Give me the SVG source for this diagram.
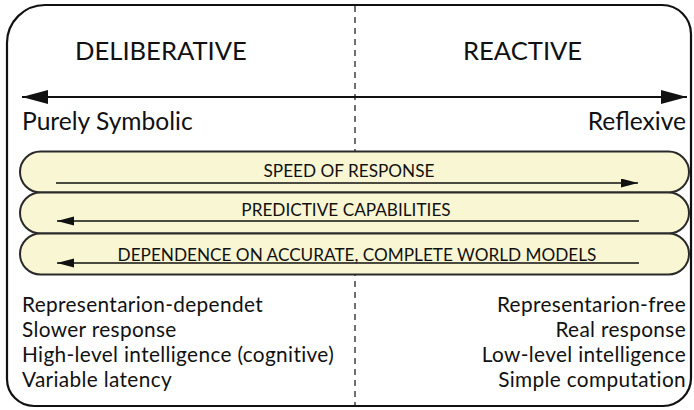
<svg xmlns="http://www.w3.org/2000/svg" width="694" height="410" viewBox="0 0 694 410">
<style>
text{font-family:Lato,"Open Sans","DejaVu Sans",sans-serif;fill:#111}
.title{font-size:25.6px}
.end{font-size:24.6px}
.pilltxt{font-size:17.2px;text-anchor:middle}
.item{font-size:20.8px;letter-spacing:0.35px}
.r{text-anchor:end}
.pill{fill:#F9F6D3;stroke:#2a2a2a;stroke-width:2}
.conn{stroke:#111;fill:none}
</style>
<defs>
<marker id="bigHead" markerUnits="userSpaceOnUse" markerWidth="28" markerHeight="16" refX="26" refY="7" orient="auto-start-reverse" viewBox="0 0 28 16"><path d="M0,0 L26,7 L0,14 Z" fill="#111"/></marker>
<marker id="smallHead" markerUnits="userSpaceOnUse" markerWidth="18" markerHeight="10" refX="17" refY="4.5" orient="auto-start-reverse" viewBox="0 0 18 10"><path d="M0,0 L17,4.5 L0,9 Z" fill="#111"/></marker>
</defs>
<rect width="694" height="410" fill="#fff"/>
<g id="frame">
<path d="M45,5 H662 A29,29 0 0 1 691,34 V378 A28,28 0 0 1 663,406 H34 A27,27 0 0 1 7,379 V43 A38,38 0 0 1 45,5 Z" fill="none" stroke="#111" stroke-width="2.2"/>
<line x1="355" y1="6" x2="355" y2="405" stroke="#111" stroke-width="1.2" stroke-dasharray="6,5"/>
</g>
<g id="deliberative"><text class="title" x="75" y="60">DELIBERATIVE</text></g>
<g id="reactive"><text class="title" x="463" y="60">REACTIVE</text></g>
<g id="purely-symbolic"><text class="end" x="22" y="130">Purely Symbolic</text></g>
<g id="reflexive"><text class="end r" x="686" y="130">Reflexive</text></g>
<g id="speed"><rect class="pill" x="20" y="151.5" width="669" height="41" rx="20.5"/><text class="pilltxt" x="349" y="177">SPEED OF RESPONSE</text></g>
<g id="predictive"><rect class="pill" x="20" y="192.5" width="669" height="41" rx="20.5"/><text class="pilltxt" x="346" y="216">PREDICTIVE CAPABILITIES</text></g>
<g id="dependence"><rect class="pill" x="20" y="233.5" width="669" height="41" rx="20.5"/><text class="pilltxt" x="357" y="261">DEPENDENCE ON ACCURATE, COMPLETE WORLD MODELS</text></g>
<g id="connectors">
<line class="conn" x1="22" y1="97" x2="687" y2="97" stroke-width="2.2" marker-start="url(#bigHead)" marker-end="url(#bigHead)"/>
<line class="conn" x1="56" y1="183" x2="638" y2="183" stroke-width="1.5" marker-end="url(#smallHead)"/>
<line class="conn" x1="639" y1="221" x2="57" y2="221" stroke-width="1.5" marker-end="url(#smallHead)"/>
<line class="conn" x1="639" y1="263" x2="57" y2="263" stroke-width="1.5" marker-end="url(#smallHead)"/>
</g>
<g id="deliberative-traits">
<text class="item" x="22" y="312">Representarion-dependet</text>
<text class="item" x="22" y="337">Slower response</text>
<text class="item" x="22" y="362">High-level intelligence (cognitive)</text>
<text class="item" x="22" y="387">Variable latency</text>
</g>
<g id="reactive-traits">
<text class="item r" x="686" y="312">Representarion-free</text>
<text class="item r" x="686" y="337">Real response</text>
<text class="item r" x="686" y="362">Low-level intelligence</text>
<text class="item r" x="686" y="387">Simple computation</text>
</g>
</svg>
